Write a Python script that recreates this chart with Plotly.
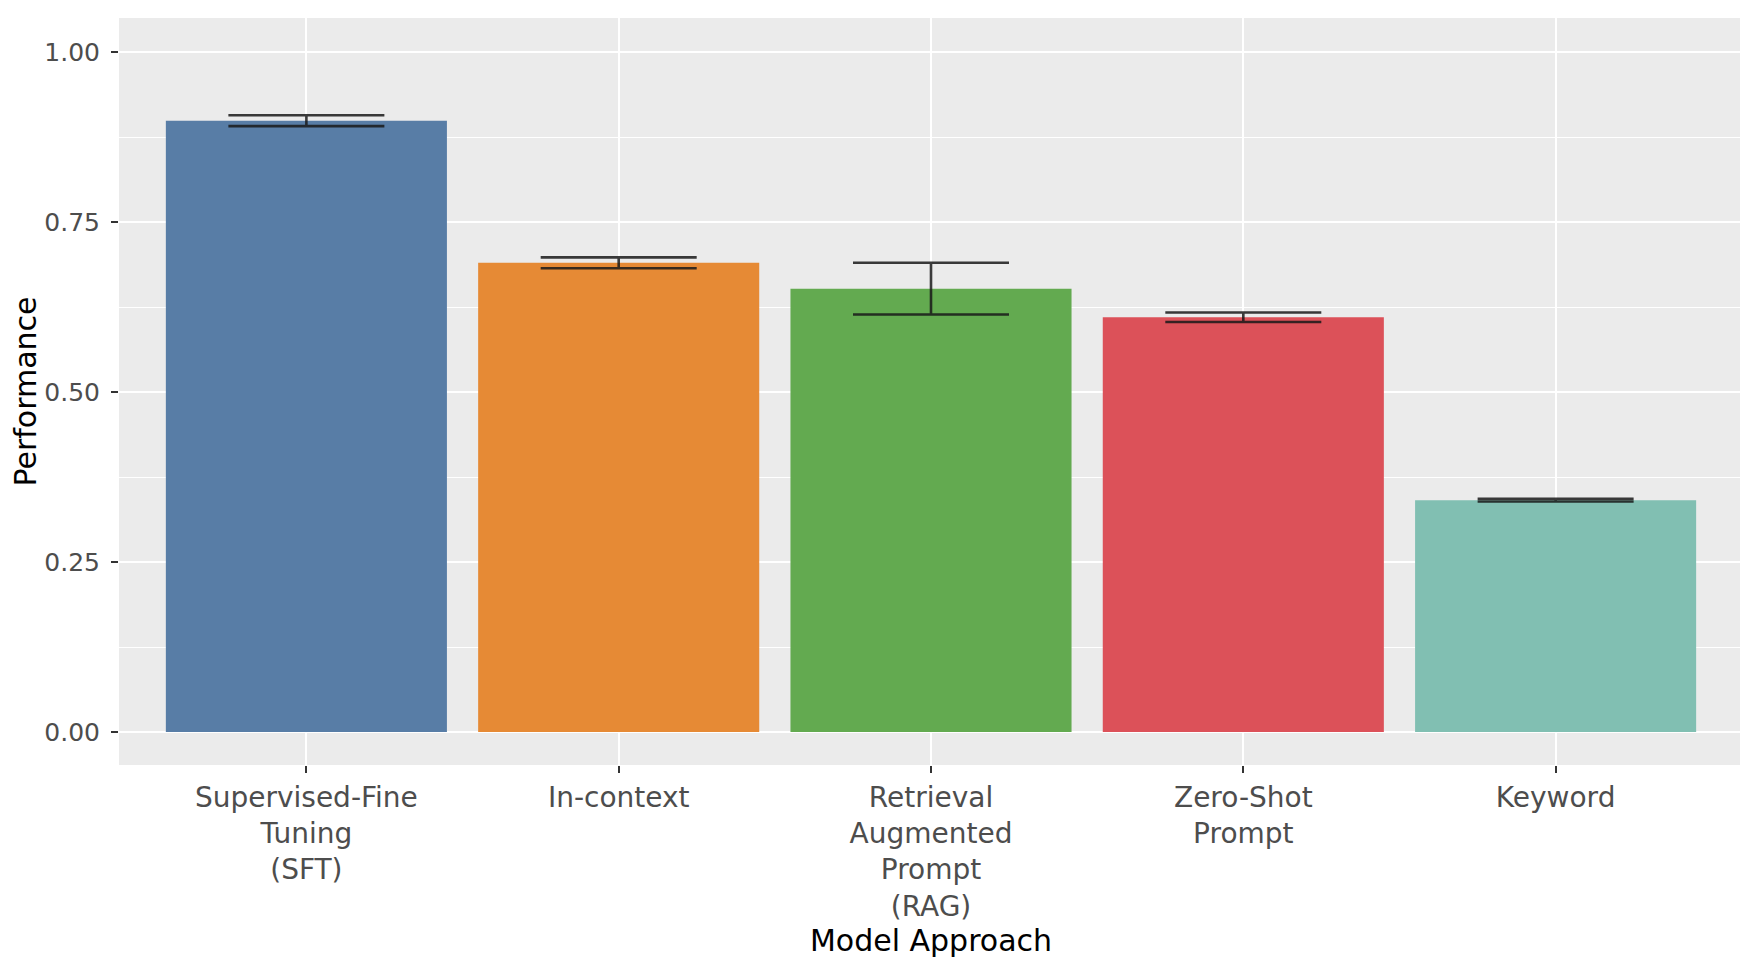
import plotly.graph_objects as go

# data
approaches = [
    "Supervised-Fine<br>Tuning<br>(SFT)",
    "In-context",
    "Retrieval<br>Augmented<br>Prompt<br>(RAG)",
    "Zero-Shot<br>Prompt",
    "Keyword",
]
performance = [0.899, 0.690, 0.652, 0.610, 0.341]
error = [0.008, 0.008, 0.038, 0.007, 0.002]
colors = ["#587DA6", "#E68A35", "#63AA50", "#DC5159", "#81BFB2"]
y_ticks = [0, 0.25, 0.5, 0.75, 1.0]
y_ticklabels = ["0.00", "0.25", "0.50", "0.75", "1.00"]

fig = go.Figure(go.Bar(
    x=approaches,
    y=performance,
    width=0.9,
    marker=dict(color=colors, line=dict(width=0)),
    error_y=dict(type="data", array=error, visible=True,
                 color="rgba(25,25,25,0.85)", thickness=2.6, width=78),
))

fig.update_layout(
    width=1748,
    height=965,
    paper_bgcolor="white",
    plot_bgcolor="#EBEBEB",
    font=dict(family="DejaVu Sans", size=26, color="#4D4D4D"),
    margin=dict(l=111, r=13, t=10, b=208),
    showlegend=False,
    bargap=0.1,
)

fig.update_xaxes(
    range=[-0.6, 4.6],
    showgrid=True, gridcolor="white", gridwidth=2.4,
    ticks="outside", ticklen=7, tickwidth=2, tickcolor="#333333",
    tickfont=dict(size=28, color="#4D4D4D"),
    title=dict(text="Model Approach", font=dict(size=30, color="black"), standoff=6),
    zeroline=False, showline=False,
)

fig.update_yaxes(
    range=[-0.0485, 1.05],
    tickvals=y_ticks, ticktext=y_ticklabels,
    showgrid=True, gridcolor="white", gridwidth=2.4,
    minor=dict(tick0=0.125, dtick=0.25, showgrid=True, gridcolor="white", gridwidth=1.2),
    ticks="outside", ticklen=7, tickwidth=2, tickcolor="#333333",
    ticklabelstandoff=6,
    tickfont=dict(size=25, color="#4D4D4D"),
    title=dict(text="Performance", font=dict(size=30, color="black"), standoff=6),
    zeroline=False, showline=False,
)

fig.write_html("out.html")
